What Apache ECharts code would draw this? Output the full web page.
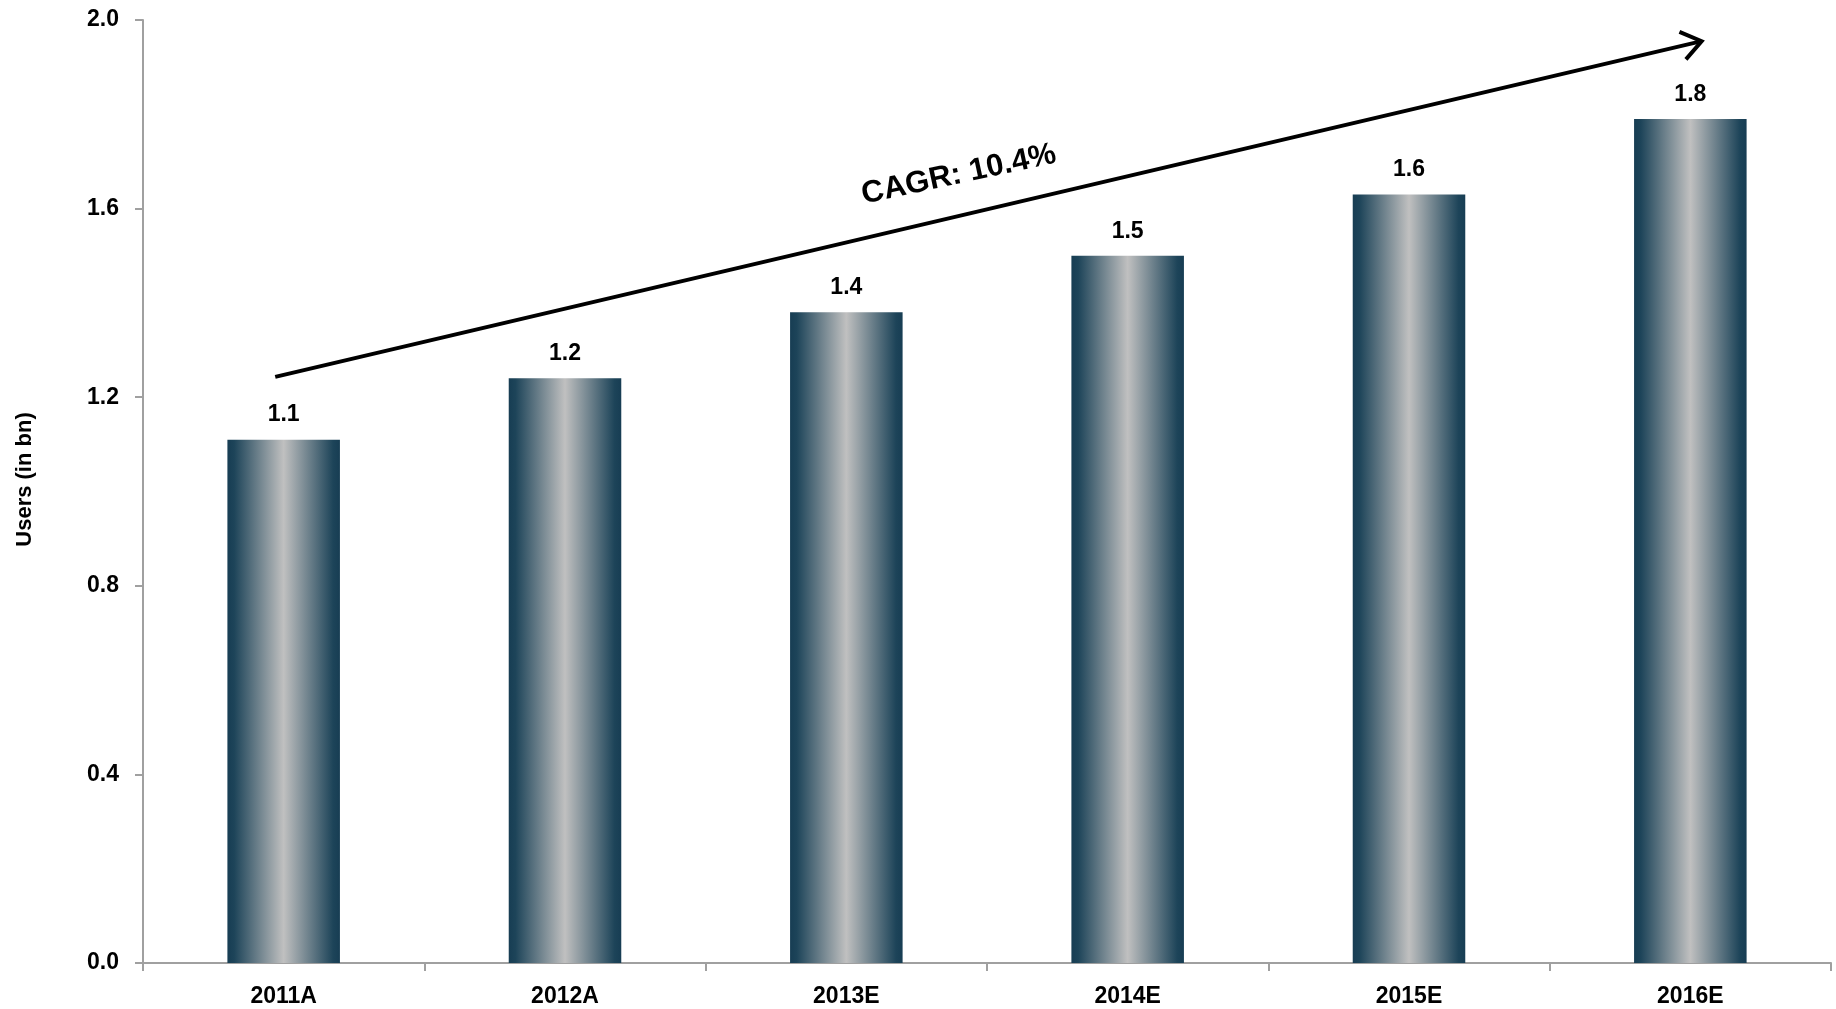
<!DOCTYPE html>
<html>
<head>
<meta charset="utf-8">
<script src="https://cdn.jsdelivr.net/npm/echarts@6/dist/echarts.min.js"></script>
<style>
html,body{margin:0;padding:0;background:#fff;}
#chart{width:1836px;height:1009px;}
</style>
</head>
<body>
<div id="chart"></div>
<script>
// ---- data ----
const categories = ['2011A', '2012A', '2013E', '2014E', '2015E', '2016E'];
const users = [1.11, 1.24, 1.38, 1.50, 1.63, 1.79];
const yTicks = [0.0, 0.4, 0.8, 1.2, 1.6, 2.0];
const yAxisTitle = 'Users (in bn)';
const cagrText = 'CAGR: 10.4%';
// annotation anchors in data units: [category index, value]
const arrowStart = [-0.03, 1.243];
const arrowEnd = [5.04, 1.955];
const cagrAnchor = [2.40, 1.672];

const fontFam = "'Liberation Sans', Arial, sans-serif";

const chart = echarts.init(document.getElementById('chart'), null, {renderer: 'canvas'});

const barGradient = new echarts.graphic.LinearGradient(0, 0, 1, 0, [
  {offset: 0, color: '#173d53'},
  {offset: 0.06, color: '#1d4459'},
  {offset: 0.5, color: '#c0c0c0'},
  {offset: 0.94, color: '#1d4459'},
  {offset: 1, color: '#173d53'}
]);

chart.setOption({
  animation: false,
  backgroundColor: '#ffffff',
  grid: {left: 143, right: 5, top: 20, bottom: 46, containLabel: false},
  xAxis: {
    type: 'category',
    data: categories,
    boundaryGap: true,
    axisLine: {show: true, lineStyle: {color: '#a0a0a0', width: 2}},
    axisTick: {show: true, length: 8, alignWithLabel: false, lineStyle: {color: '#a0a0a0', width: 2}},
    axisLabel: {color: '#000', fontFamily: fontFam, fontWeight: 'bold', fontSize: 23, margin: 22}
  },
  yAxis: {
    type: 'value',
    min: yTicks[0],
    max: yTicks[yTicks.length - 1],
    interval: 0.4,
    name: yAxisTitle,
    nameLocation: 'middle',
    nameGap: 107,
    nameRotate: 90,
    nameTextStyle: {color: '#000', fontFamily: fontFam, fontWeight: 'bold', fontSize: 22, padding: [0, 0, 0, 24]},
    axisLine: {show: true, lineStyle: {color: '#a0a0a0', width: 2}},
    axisTick: {show: true, length: 8, lineStyle: {color: '#a0a0a0', width: 2}},
    splitLine: {show: false},
    axisLabel: {
      color: '#000', fontFamily: fontFam, fontWeight: 'bold', fontSize: 23, margin: 24,
      formatter: v => v.toFixed(1)
    }
  },
  series: [{
    type: 'bar',
    data: users,
    barWidth: '40%',
    itemStyle: {color: barGradient},
    label: {
      show: true,
      position: 'top',
      distance: 13,
      color: '#000',
      fontFamily: fontFam,
      fontWeight: 'bold',
      fontSize: 23,
      formatter: p => p.value.toFixed(1)
    }
  }]
});

function toPx(pt) {
  const p0 = chart.convertToPixel({gridIndex: 0}, [0, pt[1]]);
  const p1 = chart.convertToPixel({gridIndex: 0}, [1, pt[1]]);
  return [p0[0] + (p1[0] - p0[0]) * pt[0], p0[1]];
}

const s = toPx(arrowStart);
const e = toPx(arrowEnd);
const ang = Math.atan2(e[1] - s[1], e[0] - s[0]);
const headLen = 24, headAng = 36 * Math.PI / 180;
const h1 = [e[0] - headLen * Math.cos(ang - headAng), e[1] - headLen * Math.sin(ang - headAng)];
const h2 = [e[0] - headLen * Math.cos(ang + headAng), e[1] - headLen * Math.sin(ang + headAng)];
const c = toPx(cagrAnchor);

chart.setOption({
  graphic: [
    {
      type: 'line', z: 100,
      shape: {x1: s[0], y1: s[1], x2: e[0] - 2 * Math.cos(ang), y2: e[1] - 2 * Math.sin(ang)},
      style: {stroke: '#000', lineWidth: 4}
    },
    {
      type: 'polyline', z: 100,
      shape: {points: [h1, e, h2]},
      style: {stroke: '#000', lineWidth: 4, fill: null, lineJoin: 'miter'}
    },
    {
      type: 'text', z: 100,
      x: c[0], y: c[1],
      rotation: -ang - 0.02,
      style: {
        text: cagrText,
        fill: '#000',
        font: "bold 31px 'Liberation Sans', Arial, sans-serif",
        align: 'center',
        verticalAlign: 'middle'
      }
    }
  ]
});
</script>
</body>
</html>
